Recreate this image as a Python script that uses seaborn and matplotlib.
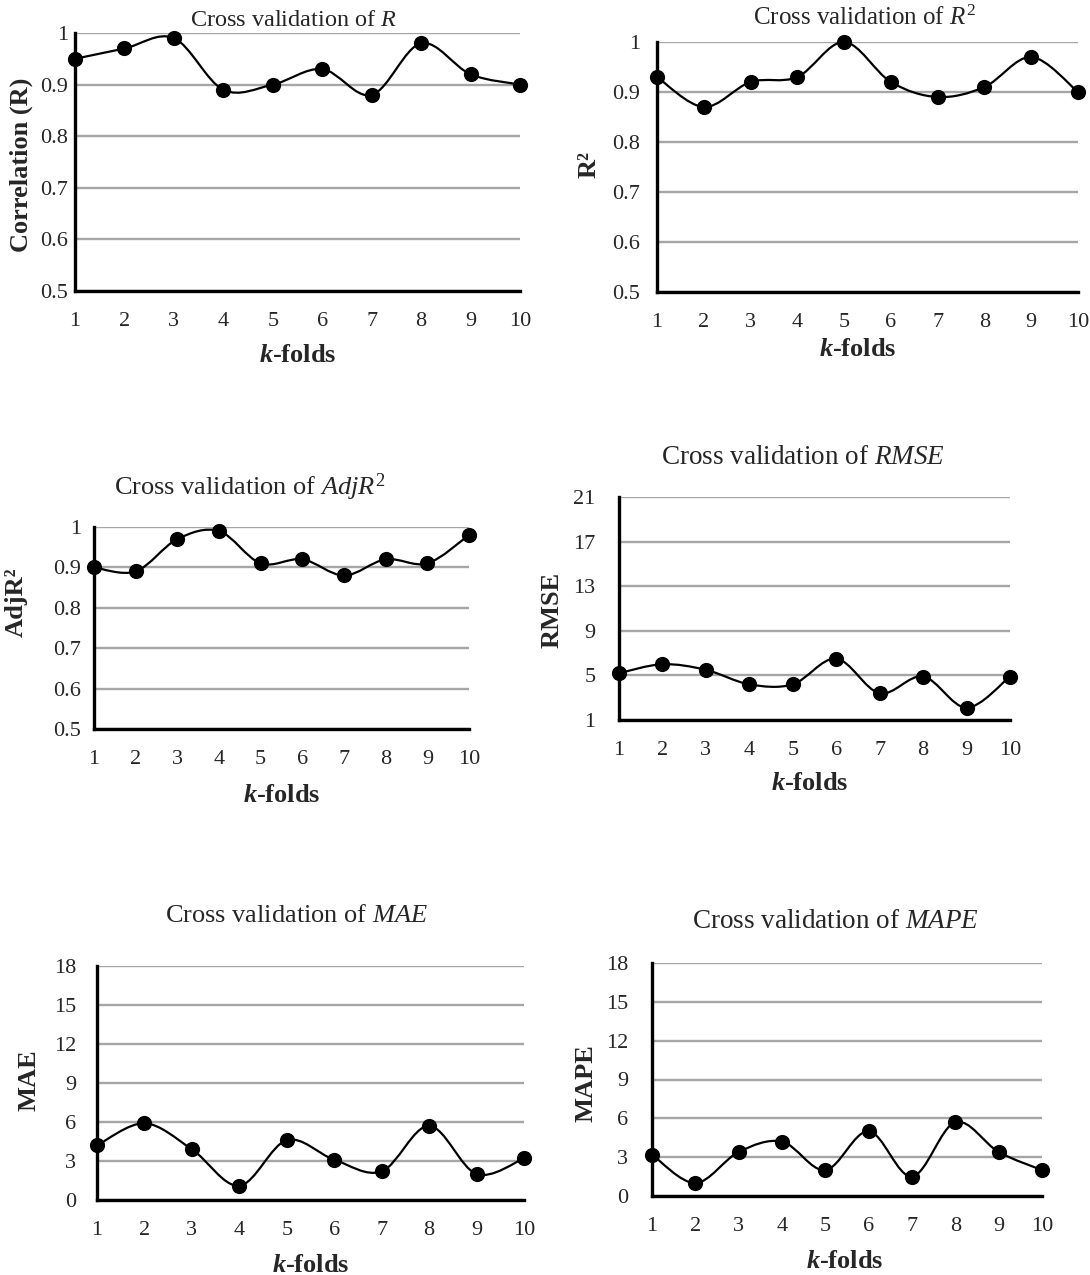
import numpy as np
import matplotlib
matplotlib.use("Agg")
import matplotlib.pyplot as plt
from matplotlib.path import Path
from matplotlib.patches import PathPatch
import pandas as pd
import seaborn as sns

folds = [1, 2, 3, 4, 5, 6, 7, 8, 9, 10]
r_vals = [0.95, 0.97, 0.99, 0.89, 0.90, 0.93, 0.88, 0.98, 0.92, 0.90]
r2_vals = [0.93, 0.87, 0.92, 0.93, 1.00, 0.92, 0.89, 0.91, 0.97, 0.90]
adjr2_vals = [0.90, 0.89, 0.97, 0.99, 0.91, 0.92, 0.88, 0.92, 0.91, 0.98]
rmse_vals = [5.2, 6.0, 5.5, 4.2, 4.2, 6.5, 3.4, 4.9, 2.1, 4.9]
mae_vals = [4.2, 5.9, 3.9, 1.1, 4.6, 3.1, 2.2, 5.7, 2.0, 3.2]
mape_vals = [3.2, 1.0, 3.4, 4.2, 2.0, 5.0, 1.5, 5.7, 3.4, 2.0]

corr_ticks = [0.5, 0.6, 0.7, 0.8, 0.9, 1.0]
corr_labels = ["0.5", "0.6", "0.7", "0.8", "0.9", "1"]
rmse_ticks = [1, 5, 9, 13, 17, 21]
err_ticks = [0, 3, 6, 9, 12, 15, 18]

W, H = 1090, 1275

sns.set_style("white")
plt.rcParams["font.family"] = ["Liberation Serif", "DejaVu Serif"]
plt.rcParams["mathtext.fontset"] = "custom"
plt.rcParams["mathtext.rm"] = "Liberation Serif"
plt.rcParams["mathtext.it"] = "Liberation Serif:italic"
plt.rcParams["mathtext.bf"] = "Liberation Serif:bold"
plt.rcParams["mathtext.bfit"] = "Liberation Serif:italic:bold"


def smooth_path(xs, ys):
    # сглаженная линия как в Excel (кривые Безье через точки)
    pts = np.column_stack([xs, ys]).astype(float)
    n = len(pts)
    verts = [pts[0]]
    codes = [Path.MOVETO]
    for i in range(n - 1):
        p0 = pts[i - 1] if i > 0 else pts[i]
        p1 = pts[i]
        p2 = pts[i + 1]
        p3 = pts[i + 2] if i + 2 < n else pts[i + 1]
        verts += [p1 + (p2 - p0) / 6, p2 - (p3 - p1) / 6, p2]
        codes += [Path.CURVE4] * 3
    return Path(verts, codes)


def px_box(x0, y0, x1, y1):
    return [x0 / W, 1 - y1 / H, (x1 - x0) / W, (y1 - y0) / H]


def fig_xy(x, y):
    return x / W, 1 - y / H


panels = [
    dict(vals=r_vals, box=(75, 33, 520, 291), ylim=(0.5, 1.0), ticks=corr_ticks, labels=corr_labels,
         title="Cross validation of $R$", tpos=(294, 20), tsize=17.5,
         ylabel="Correlation (R)", ypos=(21, 165), ypad=5, xpos=(298, 355)),
    dict(vals=r2_vals, box=(657, 42, 1078, 292), ylim=(0.5, 1.0), ticks=corr_ticks, labels=corr_labels,
         title="Cross validation of $R^2$", tpos=(865, 18), tsize=18,
         ylabel="R²", ypos=(589, 165), ypad=12, xpos=(858, 350)),
    dict(vals=adjr2_vals, box=(94, 527, 469, 729), ylim=(0.5, 1.0), ticks=corr_ticks, labels=corr_labels,
         title="Cross validation of $AdjR^2$", tpos=(250, 487), tsize=19,
         ylabel="AdjR²", ypos=(16, 602), ypad=9, xpos=(282, 795)),
    dict(vals=rmse_vals, box=(619, 497, 1010, 720), ylim=(1, 21), ticks=rmse_ticks, labels=[str(t) for t in rmse_ticks],
         title="Cross validation of $RMSE$", tpos=(803, 457), tsize=19.5,
         ylabel="RMSE", ypos=(552, 610), ypad=17, xpos=(810, 783)),
    dict(vals=mae_vals, box=(97, 966, 524, 1200), ylim=(0, 18), ticks=err_ticks, labels=[str(t) for t in err_ticks],
         title="Cross validation of $MAE$", tpos=(297, 916), tsize=19,
         ylabel="MAE", ypos=(29, 1080), ypad=15, xpos=(311, 1265)),
    dict(vals=mape_vals, box=(652, 963, 1042, 1196), ylim=(0, 18), ticks=err_ticks, labels=[str(t) for t in err_ticks],
         title="Cross validation of $MAPE$", tpos=(836, 922), tsize=19.5,
         ylabel="MAPE", ypos=(586, 1083), ypad=17, xpos=(845, 1262)),
]

fig = plt.figure(figsize=(W / 100, H / 100), dpi=100)

for p in panels:
    ax = fig.add_axes(px_box(*p["box"]))
    df = pd.DataFrame({"fold": folds, "value": p["vals"]})
    ax.add_patch(PathPatch(smooth_path(df["fold"], df["value"]), facecolor="none",
                           edgecolor="black", lw=1.6, zorder=3, clip_on=False))
    sns.scatterplot(data=df, x="fold", y="value", ax=ax, color="black", s=120,
                    linewidth=0, zorder=4, clip_on=False)
    ax.set_xlim(1, 10)
    ax.set_ylim(*p["ylim"])
    ax.set_xticks(folds)
    ax.set_xticklabels([str(f) for f in folds])
    ax.set_yticks(p["ticks"])
    ax.set_yticklabels(p["labels"])
    ax.grid(axis="y", color="#a6a6a6", lw=1.7)
    ax.grid(axis="x", visible=False)
    ax.set_axisbelow(True)
    for s in ["top", "right"]:
        ax.spines[s].set_visible(False)
    for s in ["left", "bottom"]:
        ax.spines[s].set_color("black")
        ax.spines[s].set_linewidth(2.4)
        ax.spines[s].set_zorder(2.5)
    ax.tick_params(axis="x", length=0, pad=15, labelsize=16)
    ax.tick_params(axis="y", length=0, pad=p["ypad"], labelsize=16)
    ax.set_xlabel("")
    ax.set_ylabel("")
    fig.text(*fig_xy(*p["tpos"]), p["title"], fontsize=p["tsize"], ha="center", va="center")
    fig.text(*fig_xy(*p["xpos"]), "$\\mathbfit{k}$-folds", fontsize=19, fontweight="bold",
             ha="center", va="center")
    fig.text(*fig_xy(*p["ypos"]), p["ylabel"], fontsize=19, fontweight="bold",
             rotation=90, ha="center", va="center")

fig.savefig("out.png", dpi=100)
